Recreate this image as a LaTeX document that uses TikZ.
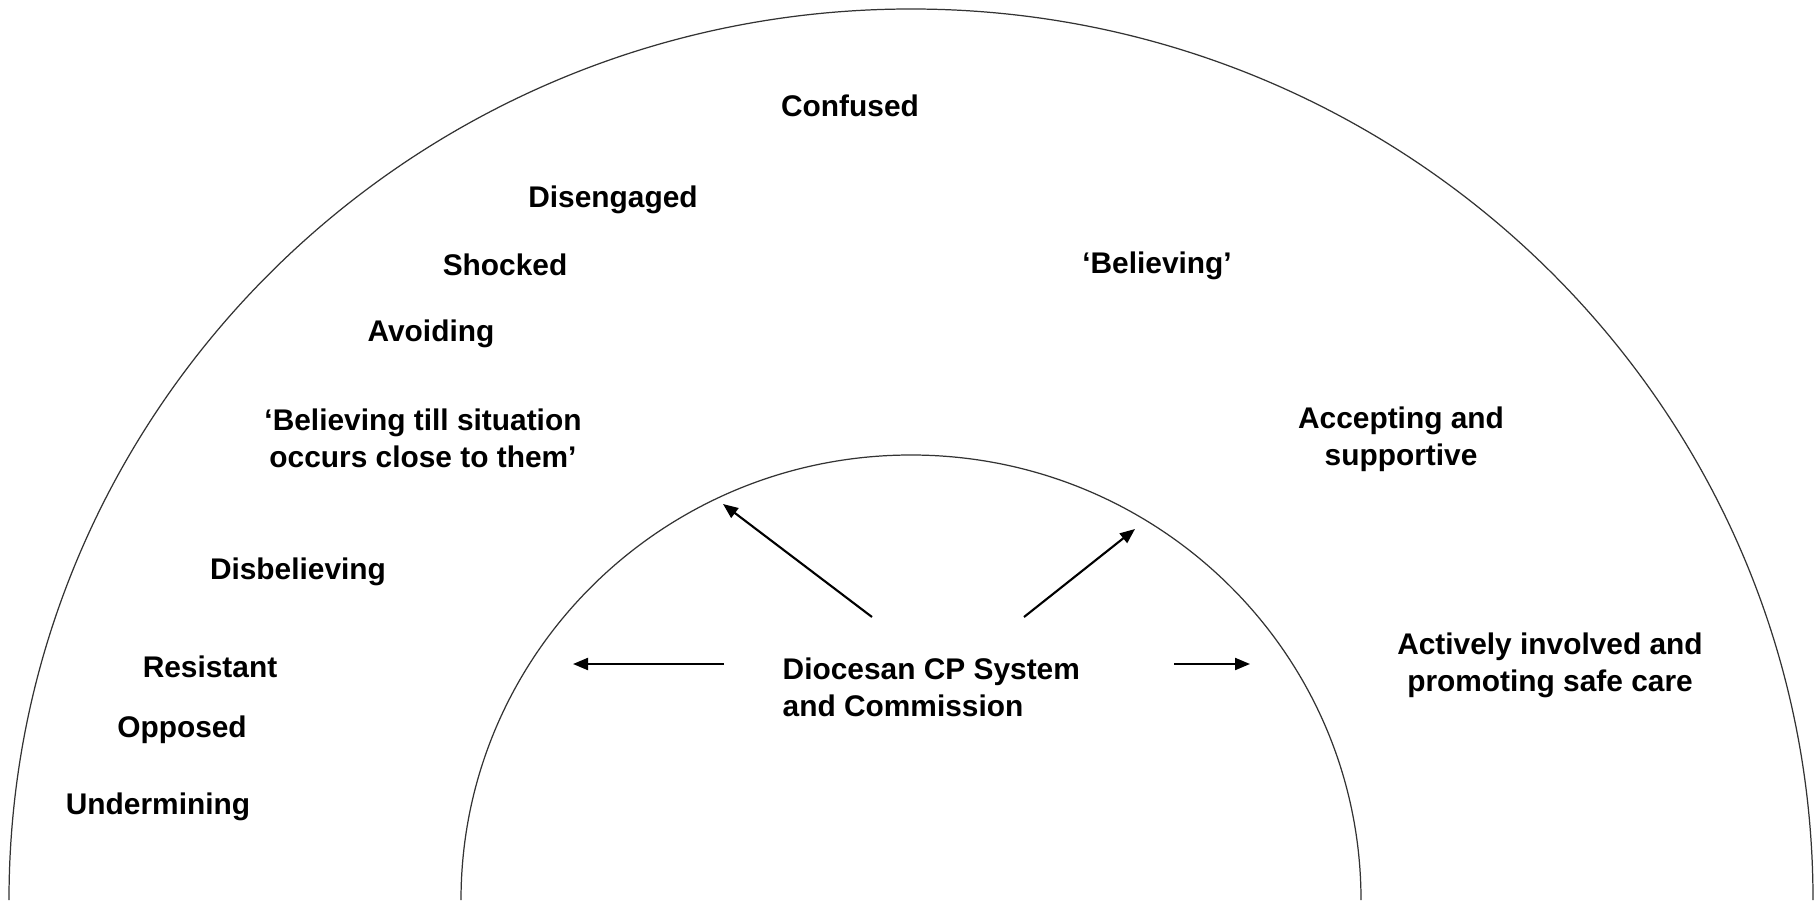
\documentclass[tikz,border=0pt]{standalone}
\usepackage{fontspec}
\setmainfont{Liberation Sans}
\usetikzlibrary{arrows.meta}
\begin{document}
\begin{tikzpicture}[
  lbl/.style={inner sep=0pt, font=\fontsize{8.5pt}{10.6pt}\selectfont\bfseries, align=center},
  ring/.style={draw=black!80, line width=0.35pt},
  push/.style={draw=black, line width=0.6pt, -{Triangle[length=1.5mm,width=1.2mm]}}
]
\useasboundingbox (0,0) rectangle (18.16,9.00);
% rings
\draw[ring] (0.09,0) arc[start angle=180, end angle=0, x radius=9.02cm, y radius=8.91cm];
\draw[ring] (4.61,0) arc[start angle=180, end angle=0, x radius=4.50cm, y radius=4.45cm];
% outer labels
\node[lbl] (confused) at (8.50,7.94) {Confused};
\node[lbl] (diseng) at (6.13,7.00) {Disengaged};
\node[lbl] (shocked) at (5.05,6.35) {Shocked};
\node[lbl] (avoid) at (4.31,5.66) {Avoiding};
\node[lbl] (btill) at (4.23,4.62) {‘Believing till situation\\occurs close to them’};
\node[lbl] (disbel) at (2.98,3.28) {Disbelieving};
\node[lbl] (resist) at (2.10,2.33) {Resistant};
\node[lbl] (opposed) at (1.82,1.70) {Opposed};
\node[lbl] (underm) at (1.58,0.93) {Undermining};
\node[lbl] (believ) at (11.57,6.34) {‘Believing’};
\node[lbl] (accept) at (14.01,4.61) {Accepting and\\supportive};
\node[lbl] (active) at (15.50,2.35) {Actively involved and\\promoting safe care};
% centre
\node[lbl, anchor=west, align=left] (dioc) at (7.82,2.13) {Diocesan CP System\\and Commission};
% arrow ends
\coordinate (s1) at (7.24,2.36); \coordinate (e1) at (5.73,2.36);
\coordinate (s2) at (11.74,2.36); \coordinate (e2) at (12.50,2.36);
\coordinate (s3) at (8.72,2.83); \coordinate (e3) at (7.23,3.96);
\coordinate (s4) at (10.24,2.83); \coordinate (e4) at (11.35,3.71);
\draw[push] (s1) -- (e1);
\draw[push] (s2) -- (e2);
\draw[push] (s3) -- (e3);
\draw[push] (s4) -- (e4);
\end{tikzpicture}
\end{document}
